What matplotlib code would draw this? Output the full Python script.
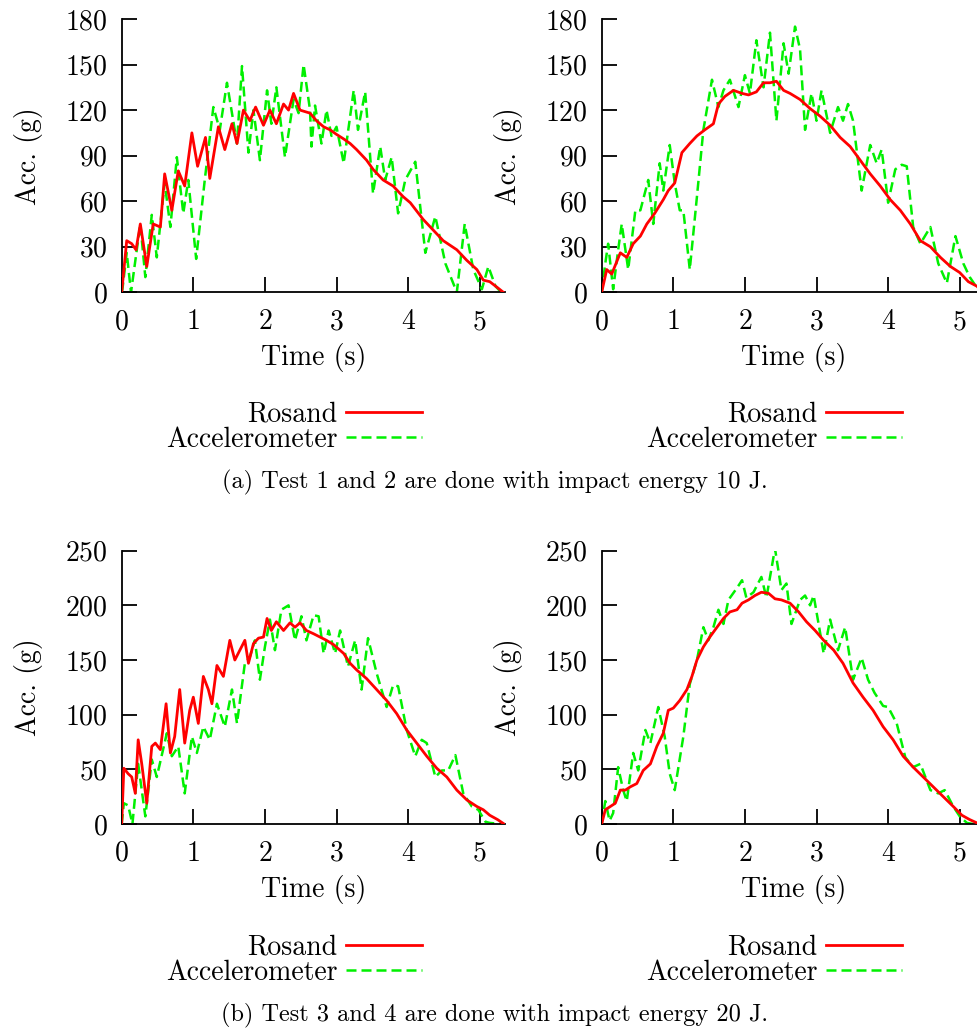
import matplotlib
matplotlib.use("Agg")
import matplotlib.pyplot as plt

plt.rcParams['font.family'] = ['cmr10', 'DejaVu Serif']
plt.rcParams['axes.formatter.use_mathtext'] = True
plt.rcParams['mathtext.fontset'] = 'cm'

# ---------------- data ----------------
t1_ros = [0, 0.07, 0.14, 0.2, 0.26, 0.35, 0.44, 0.54, 0.6, 0.70, 0.79, 0.88, 0.98, 1.06, 1.17, 1.23,
          1.35, 1.44, 1.54, 1.61, 1.70, 1.79, 1.87, 1.98, 2.07, 2.16, 2.26, 2.33, 2.40, 2.49, 2.63,
          2.72, 2.82, 2.91, 3.0, 3.10, 3.19, 3.28, 3.42, 3.51, 3.65, 3.79, 3.93, 4.03, 4.21, 4.35,
          4.49, 4.68, 4.82, 4.96, 5.05, 5.14, 5.25, 5.33]
g1_ros = [0, 34, 32, 28, 45, 17, 45, 43, 78, 54, 80, 70, 105, 83, 102, 75,
          109, 94, 111, 98, 120, 113, 122, 110, 120, 111, 124, 120, 131, 120, 118,
          113, 109, 107, 104, 101, 98, 94, 87, 81, 74, 70, 63, 59, 48, 41,
          34, 28, 21, 15, 8, 7, 3, 0]
t1_acc = [0, 0.01, 0.07, 0.13, 0.26, 0.33, 0.42, 0.49, 0.6, 0.68, 0.77, 0.86, 0.93, 1.04, 1.16, 1.28,
          1.37, 1.47, 1.61, 1.68, 1.77, 1.84, 1.93, 2.03, 2.09, 2.16, 2.28, 2.40, 2.47, 2.54, 2.63,
          2.65, 2.70, 2.79, 2.86, 2.93, 3.0, 3.10, 3.24, 3.30, 3.40, 3.51, 3.61, 3.68, 3.77, 3.86,
          3.96, 4.1, 4.24, 4.38, 4.52, 4.68, 4.79, 4.91, 5.03, 5.12, 5.22, 5.3]
g1_acc = [0, 2, 26, 0, 45, 10, 51, 23, 72, 43, 89, 52, 74, 22, 74, 122,
          107, 138, 98, 149, 92, 120, 87, 133, 111, 135, 89, 127, 118, 150, 120,
          96, 123, 98, 120, 103, 109, 85, 133, 107, 132, 65, 96, 74, 89, 52,
          74, 86, 26, 50, 19, 0, 45, 15, 2, 17, 4, 0]

t2_ros = [0, 0.07, 0.14, 0.26, 0.35, 0.44, 0.54, 0.63, 0.74, 0.86, 0.93, 1.02, 1.12, 1.23, 1.33,
          1.44, 1.56, 1.63, 1.72, 1.84, 1.96, 2.05, 2.16, 2.26, 2.35, 2.44, 2.54, 2.63, 2.77, 2.91,
          3.05, 3.19, 3.33, 3.47, 3.61, 3.75, 3.89, 4.03, 4.17, 4.31, 4.45, 4.59, 4.73, 4.87, 5.0,
          5.12, 5.24, 5.32]
g2_ros = [0, 15, 12, 26, 23, 32, 37, 45, 52, 61, 67, 72, 92, 98, 103,
          107, 111, 124, 129, 133, 131, 130, 132, 138, 138, 139, 133, 131, 127, 121,
          116, 110, 102, 96, 87, 78, 70, 61, 54, 45, 34, 30, 23, 17, 13,
          7, 4, 0]
t2_acc = [0, 0.05, 0.09, 0.16, 0.23, 0.28, 0.37, 0.47, 0.54, 0.65, 0.72, 0.81, 0.86, 0.95, 1.02,
          1.09, 1.14, 1.23, 1.33, 1.42, 1.54, 1.63, 1.70, 1.79, 1.91, 2.0, 2.07, 2.16, 2.26, 2.35,
          2.44, 2.54, 2.61, 2.70, 2.77, 2.84, 2.93, 3.0, 3.07, 3.19, 3.30, 3.37, 3.44, 3.51, 3.63,
          3.75, 3.84, 3.91, 4.0, 4.10, 4.19, 4.26, 4.35, 4.45, 4.59, 4.70, 4.82, 4.94, 5.05, 5.14,
          5.24, 5.32]
g2_acc = [0, 19, 32, 2, 28, 45, 15, 54, 54, 74, 45, 85, 67, 97, 72,
          54, 54, 15, 63, 107, 140, 122, 133, 140, 122, 143, 131, 166, 135, 171,
          113, 164, 144, 175, 160, 107, 131, 113, 133, 105, 122, 113, 124, 113, 67,
          97, 85, 94, 59, 81, 84, 83, 43, 32, 43, 19, 6, 37, 19, 10,
          3, 0]

t3_ros = [0, 0.03, 0.09, 0.14, 0.19, 0.23, 0.28, 0.35, 0.42, 0.47, 0.54, 0.62, 0.68, 0.74, 0.81,
          0.88, 0.95, 1.0, 1.07, 1.14, 1.21, 1.26, 1.33, 1.42, 1.51, 1.58, 1.65, 1.72, 1.77, 1.84,
          1.91, 1.98, 2.03, 2.09, 2.16, 2.26, 2.35, 2.42, 2.49, 2.58, 2.68, 2.77, 2.86, 2.96, 3.10,
          3.19, 3.28, 3.42, 3.56, 3.70, 3.84, 3.98, 4.12, 4.26, 4.40, 4.54, 4.68, 4.82, 4.96, 5.05,
          5.14, 5.25, 5.34]
g3_ros = [0, 51, 46, 43, 28, 77, 55, 19, 71, 74, 68, 110, 65, 80, 123,
          74, 104, 116, 92, 135, 123, 110, 145, 135, 168, 150, 159, 168, 147, 165,
          170, 171, 188, 177, 185, 177, 184, 180, 184, 177, 174, 171, 168, 164, 156,
          147, 141, 133, 123, 113, 101, 86, 74, 62, 51, 43, 31, 22, 16, 13,
          8, 4, 0]
t3_acc = [0, 0.03, 0.09, 0.15, 0.23, 0.33, 0.42, 0.49, 0.63, 0.70, 0.79, 0.88, 0.98, 1.05, 1.14,
          1.23, 1.33, 1.44, 1.54, 1.61, 1.72, 1.79, 1.86, 1.93, 2.0, 2.07, 2.14, 2.23, 2.33, 2.42,
          2.51, 2.58, 2.68, 2.75, 2.82, 2.89, 2.98, 3.05, 3.16, 3.26, 3.35, 3.44, 3.56, 3.70, 3.79,
          3.86, 3.98, 4.10, 4.19, 4.26, 4.38, 4.47, 4.56, 4.66, 4.77, 4.89, 4.98, 5.08, 5.14, 5.3]
g3_acc = [0, 19, 17, 0, 55, 7, 59, 43, 83, 62, 71, 28, 80, 65, 89,
          77, 110, 89, 123, 92, 147, 153, 168, 132, 162, 187, 159, 196, 200, 168,
          190, 168, 191, 190, 156, 177, 156, 177, 144, 168, 123, 170, 138, 107, 127,
          126, 86, 62, 77, 74, 43, 49, 49, 63, 28, 16, 13, 2, 1, 0]

t4_ros = [0, 0.05, 0.12, 0.19, 0.26, 0.33, 0.40, 0.49, 0.58, 0.68, 0.77, 0.86, 0.93, 1.0, 1.09,
          1.19, 1.26, 1.33, 1.42, 1.51, 1.61, 1.70, 1.79, 1.89, 1.96, 2.05, 2.14, 2.23, 2.33, 2.42,
          2.51, 2.63, 2.75, 2.86, 2.98, 3.10, 3.24, 3.37, 3.51, 3.65, 3.79, 3.93, 4.07, 4.21, 4.35,
          4.49, 4.63, 4.77, 4.91, 5.03, 5.14, 5.24, 5.3]
g4_ros = [0, 13, 16, 19, 31, 31, 34, 37, 49, 55, 71, 83, 104, 106, 113,
          123, 135, 150, 162, 171, 180, 188, 194, 196, 202, 205, 209, 212, 211, 206,
          205, 202, 194, 185, 177, 168, 159, 147, 129, 116, 104, 89, 77, 62, 52,
          43, 34, 25, 16, 8, 4, 1, 0]
t4_acc = [0, 0.05, 0.11, 0.16, 0.23, 0.30, 0.35, 0.44, 0.51, 0.61, 0.68, 0.79, 0.88, 0.95, 1.02,
          1.14, 1.23, 1.33, 1.42, 1.49, 1.56, 1.63, 1.70, 1.77, 1.89, 1.96, 2.02, 2.12, 2.23, 2.30,
          2.42, 2.51, 2.58, 2.65, 2.77, 2.84, 2.91, 2.96, 3.10, 3.19, 3.30, 3.40, 3.51, 3.63, 3.72,
          3.81, 3.93, 4.0, 4.12, 4.24, 4.35, 4.45, 4.59, 4.70, 4.79, 4.91, 5.0, 5.1, 5.19]
g4_acc = [0, 21, 3, 10, 52, 31, 21, 65, 49, 86, 74, 107, 80, 46, 31,
          80, 128, 150, 180, 168, 180, 196, 183, 205, 216, 223, 207, 212, 226, 207,
          252, 214, 220, 183, 205, 209, 200, 209, 156, 187, 159, 180, 132, 152, 132,
          120, 108, 107, 92, 61, 52, 55, 31, 28, 31, 16, 7, 1, 0]

series_names = ["Rosand", "Accelerometer"]
top_yticks = [0, 30, 60, 90, 120, 150, 180]
bot_yticks = [0, 50, 100, 150, 200, 250]
xticks = [0, 1, 2, 3, 4, 5]
captions = ["(a) Test 1 and 2 are done with impact energy 10 J.",
            "(b) Test 3 and 4 are done with impact energy 20 J."]

# ---------------- figure ----------------
W, H = 978, 1030
fig = plt.figure(figsize=(W / 100, H / 100), dpi=100)

def rect(x0, ytop, x1, ybot):
    return [x0 / W, 1 - ybot / H, (x1 - x0) / W, (ybot - ytop) / H]

panels = [
    (rect(121.7, 19, 504.8, 292.3), t1_ros, g1_ros, t1_acc, g1_acc, top_yticks, 180),
    (rect(601.7, 19, 984.8, 292.3), t2_ros, g2_ros, t2_acc, g2_acc, top_yticks, 180),
    (rect(121.7, 550.7, 504.8, 824), t3_ros, g3_ros, t3_acc, g3_acc, bot_yticks, 250),
    (rect(601.7, 550.7, 984.8, 824), t4_ros, g4_ros, t4_acc, g4_acc, bot_yticks, 250),
]

FS = 20
RED = '#ff0000'
GREEN = '#00f000'

for i, (pos, tr, gr, ta, ga, yt, ymax) in enumerate(panels):
    ax = fig.add_axes(pos)
    ax.plot(tr, gr, color=RED, lw=2.0, label=series_names[0], zorder=3)
    ax.plot(ta, ga, color=GREEN, lw=1.8, dashes=(4.0, 2.0), label=series_names[1], zorder=2)
    ax.set_xlim(0, 5.35)
    ax.set_ylim(0, ymax)
    ax.set_xticks(xticks)
    ax.set_yticks(yt)
    for s in ['top', 'right']:
        ax.spines[s].set_visible(False)
    for s in ['left', 'bottom']:
        ax.spines[s].set_linewidth(1.3)
    ax.tick_params(direction='in', length=11, width=1.3, labelsize=FS)
    ax.tick_params(axis='x', pad=12)
    ax.tick_params(axis='y', pad=10)
    ax.set_xlabel("Time (s)", fontsize=FS)
    ax.set_ylabel("Acc. (g)", fontsize=FS)
    ax.xaxis.set_label_coords(0.5, -0.185)
    ax.yaxis.set_label_coords(-0.205, 0.5)
    ax.patch.set_visible(False)
    # legend below panel
    lx = (422 if i % 2 == 0 else 902)
    ly = (427 if i < 2 else 960)
    ax.legend(loc='center right', bbox_to_anchor=(lx / W, 1 - ly / H),
              bbox_transform=fig.transFigure, frameon=False, markerfirst=False,
              fontsize=FS, handlelength=2.75, handletextpad=0.3,
              labelspacing=-0.05, borderpad=0, borderaxespad=0)

fig.text(495 / W, 1 - 482 / H, captions[0], ha='center', va='center', fontsize=17.5)
fig.text(495 / W, 1 - 1015 / H, captions[1], ha='center', va='center', fontsize=17.5)

fig.savefig("out.png", dpi=100)
